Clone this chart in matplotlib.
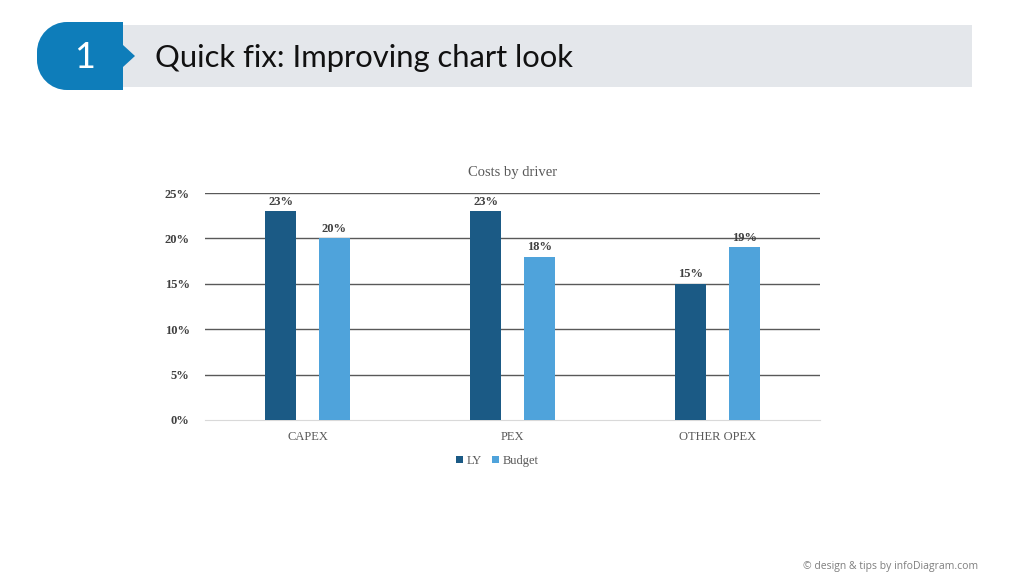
import matplotlib.pyplot as plt
import numpy as np
from matplotlib.patches import Rectangle, PathPatch
from matplotlib.path import Path

categories = ["CAPEX", "PEX", "OTHER OPEX"]
ly_values = [0.23, 0.23, 0.15]
budget_values = [0.20, 0.18, 0.19]
y_ticks = [0, 0.05, 0.10, 0.15, 0.20, 0.25]
y_tick_labels = ["0%", "5%", "10%", "15%", "20%", "25%"]

ly_color = "#1B5A85"
budget_color = "#4FA3DB"
text_gray = "#404040"

fig = plt.figure(figsize=(10.24, 5.76), dpi=100)
fig.patch.set_facecolor("white")

# header drawn in pixel coordinates on a full-figure axes
bg = fig.add_axes([0, 0, 1, 1])
bg.set_xlim(0, 1024)
bg.set_ylim(576, 0)
bg.axis("off")

bg.add_patch(Rectangle((123, 25), 849, 62, facecolor="#E4E7EB", edgecolor="none"))

# badge: rounded left side, arrow tip on the right
r = 30
top, bot, left, right = 22, 90, 37, 123
k = 0.5523 * r
verts = [
    (right, top), (left + r, top),
    (left + r - k, top), (left, top + r - k), (left, top + r),
    (left, bot - r),
    (left, bot - r + k), (left + r - k, bot), (left + r, bot),
    (right, bot), (right, 67), (135, 56), (right, 45), (right, top),
]
codes = [Path.MOVETO, Path.LINETO,
         Path.CURVE4, Path.CURVE4, Path.CURVE4,
         Path.LINETO,
         Path.CURVE4, Path.CURVE4, Path.CURVE4,
         Path.LINETO, Path.LINETO, Path.LINETO, Path.LINETO, Path.CLOSEPOLY]
bg.add_patch(PathPatch(Path(verts, codes), facecolor="#0E7DBA", edgecolor="none"))

bg.text(85, 58, "1", color="white", fontsize=26, family="Lato",
        ha="center", va="center")
bg.text(155, 58, "Quick fix: Improving chart look", color="#111111",
        fontsize=22.3, family="Lato", ha="left", va="center")
bg.text(978, 566, "\u00a9 design & tips by infoDiagram.com", color="#7F7F7F",
        fontsize=7.5, family="Open Sans", ha="right", va="center")

# chart
ax = fig.add_axes([205 / 1024, 1 - 420 / 576, 615 / 1024, 227 / 576])
x = np.arange(len(categories))
w = 0.15
off = 0.13
b1 = ax.bar(x - off, ly_values, w, color=ly_color, label="LY", zorder=3)
b2 = ax.bar(x + off, budget_values, w, color=budget_color, label="Budget", zorder=3)

for bars, vals in ((b1, ly_values), (b2, budget_values)):
    for rect, v in zip(bars, vals):
        ax.text(rect.get_x() + rect.get_width() / 2, v + 0.004, f"{v:.0%}",
                ha="center", va="bottom", fontsize=9, fontweight="bold",
                family="Liberation Serif", color=text_gray, zorder=4)

ax.set_xlim(-0.5, 2.5)
ax.set_ylim(0, 0.25)
ax.set_yticks(y_ticks)
ax.set_yticklabels(y_tick_labels, family="Liberation Serif", fontweight="bold",
                   fontsize=9, color=text_gray)
ax.set_xticks(x)
ax.set_xticklabels(categories, family="Liberation Serif", fontsize=9, color="#595959")
ax.tick_params(axis="both", length=0)
ax.tick_params(axis="y", pad=11)
ax.tick_params(axis="x", pad=8)

for t in y_ticks[1:]:
    ax.axhline(t, color="#595959", linewidth=1, zorder=1)
for s in ["top", "right", "left"]:
    ax.spines[s].set_visible(False)
ax.spines["bottom"].set_color("#D9D9D9")

ax.set_title("Costs by driver", family="Liberation Serif", fontsize=10.5,
             color="#595959", pad=12)

leg = ax.legend(loc="upper center", bbox_to_anchor=(0.475, -0.105), ncol=2,
                frameon=False, handlelength=0.55, handleheight=0.55,
                handletextpad=0.3, columnspacing=0.8,
                prop={"family": "Liberation Serif", "size": 9})
for t in leg.get_texts():
    t.set_color("#595959")

fig.savefig("out.png", dpi=100, facecolor="white")
